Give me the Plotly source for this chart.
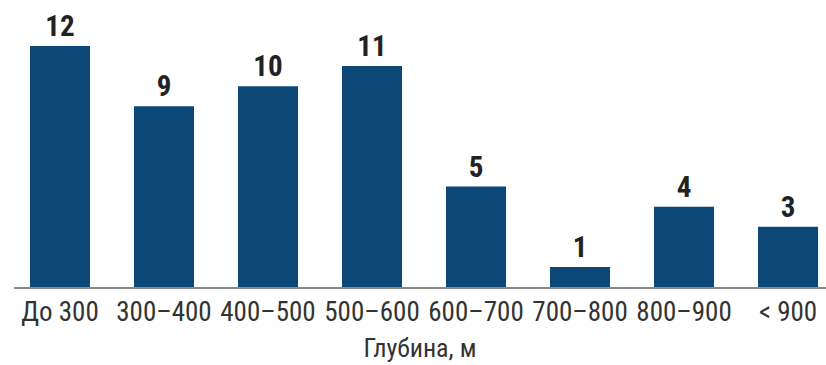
import plotly.graph_objects as go

categories = ["До 300", "300–400", "400–500", "500–600", "600–700", "700–800", "800–900", "< 900"]
values = [12, 9, 10, 11, 5, 1, 4, 3]
x_title = "Глубина, м"

FONT = "Liberation Sans Narrow, Arial Narrow, Roboto Condensed, sans-serif"

fig = go.Figure(
    go.Bar(
        x=categories,
        y=values,
        marker=dict(color="#0b4878", line=dict(width=0)),
        text=[str(v) for v in values],
        textposition="outside",
        textfont=dict(family=FONT, size=29, color="#222222", weight="bold"),
        cliponaxis=False,
        width=0.577,
    )
)

fig.update_layout(
    width=826,
    height=365,
    margin=dict(l=14, r=0, t=0, b=78),
    paper_bgcolor="white",
    plot_bgcolor="white",
    showlegend=False,
    xaxis=dict(
        type="category",
        range=[-0.442, 7.365],
        showline=True,
        linecolor="#8a8a8a",
        linewidth=2,
        showgrid=False,
        ticks="",
        ticklabelstandoff=0,
        tickfont=dict(family=FONT, size=27, color="#333333"),
        title=dict(text=x_title, font=dict(family=FONT, size=26, color="#333333"), standoff=11),
    ),
    yaxis=dict(
        range=[0, 14.29],
        visible=False,
        showgrid=False,
        zeroline=False,
    ),
)

fig.write_html("out.html")
